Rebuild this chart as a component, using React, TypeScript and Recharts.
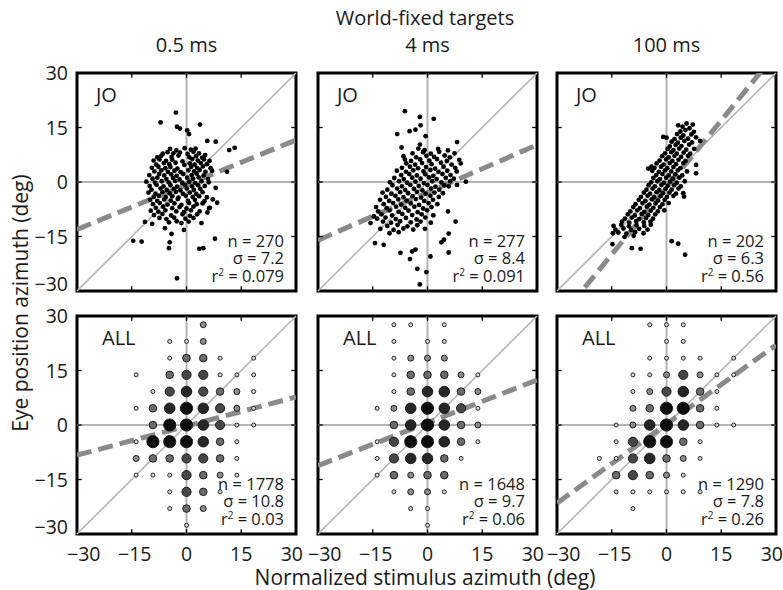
import React from 'react';
import { ScatterChart, Scatter, XAxis, YAxis, ReferenceLine, ReferenceArea } from 'recharts';

// ---- data ----
const DELAYS = ['0.5 ms', '4 ms', '100 ms'];
const SUBJECTS = ['JO', 'ALL'];
const TICKS = [-30, -15, 0, 15, 30];

const N_JO = [270, 277, 202];
const SIGMA_JO = ['7.2', '8.4', '6.3'];
const R2_JO = ['0.079', '0.091', '0.56'];
const N_ALL = [1778, 1648, 1290];
const SIGMA_ALL = ['10.8', '9.7', '7.8'];
const R2_ALL = ['0.03', '0.06', '0.26'];

// regression fits [slope, intercept]
const FIT_JO = [[0.41, -0.75], [0.437, -2.9], [1.23, -1.5]];
const FIT_ALL = [[0.267, -0.3], [0.393, 0.6], [0.725, 0.25]];

// single trials, subject JO: [stimulus az, eye az]
const JO_05: [number, number][] = [
  [-2.9,19.1],[-7.1,16.4],[-2.6,15.2],[-1.8,14.7],[0.2,14.2],[0.7,13.2],[3.7,15.8],[5.7,11.3],[8,11.1],[11.7,8.8],[13.2,9.4],[11.1,2.8],[8,-1.6],[8.4,-5.7],[-14.6,-16.2],[-12.3,-16.4],[-4.6,-16.6],[-4.8,-18.2],[3.5,-18.4],[4.6,-18.2],[7.8,-15.6],[-2.6,-26.5],[-11.4,-11],[-9.4,-11.5],[-5.9,-12.7],[-4.1,-14.3],[-0.7,-13.2],[4.1,-11.3],[5.7,-8.4],[6.2,-7.2],
  [-4.5,9.1],[-2.8,8.7],[-0.5,9.3],[1.2,8.9],[2.5,9.2],
  [-6.5,7.8],[-5.2,8.2],[-3.6,7.9],[-1.8,8.1],[0.3,7.7],[1.9,8.3],[3.4,7.9],
  [-8,6.8],[-6.9,7.2],[-4.1,6.9],[-2.2,7.3],[0.8,6.8],[2.6,7.1],[4.3,6.7],[5.1,7.4],
  [-9,5.9],[-7.4,6.2],[-5.6,5.8],[-3.9,6.1],[-1.1,5.7],[1.6,6.3],[3.1,5.9],[4.8,6.2],[6.3,5.8],
  [-8.3,4.8],[-6.2,5.2],[-4.7,4.9],[-3,5.3],[-0.6,4.7],[0.9,5.1],[2.2,4.8],[3.9,5.2],[5.6,4.9],
  [-9.5,3.9],[-7.7,4.2],[-5.8,3.8],[-4.4,4.1],[-2.5,3.7],[1.3,4.2],[2.9,3.9],[4.5,4.3],[6.6,3.8],
  [-8.8,2.9],[-6.9,3.2],[-5.1,2.8],[-3.3,3.1],[-1.6,2.7],[0.5,3.2],[2.1,2.9],[3.6,3.3],[5.2,2.8],[7,3.1],
  [-10.2,1.9],[-7.5,2.2],[-6.1,1.8],[-4.2,2.1],[-2.7,1.7],[-0.9,2.2],[1.4,1.9],[2.8,2.3],[4.7,1.8],
  [-9.3,0.9],[-8,1.2],[-5.5,0.8],[-3.7,1.1],[-1.9,0.7],[0.2,1.2],[1.8,0.9],[3.3,1.3],[5.9,0.8],
  [-11,0.1],[-8.6,-0.2],[-6.8,0.2],[-4.9,-0.1],[-3.1,0.3],[-1.2,-0.2],[0.7,0.1],[2.4,-0.3],[4.1,0.2],[6.1,-0.1],
  [-10.1,-1.1],[-8.2,-0.8],[-6.3,-1.2],[-4.4,-0.9],[-2.6,-1.3],[-0.4,-0.8],[1.5,-1.2],[3.2,-0.9],[5,-1.1],
  [-9.6,-2.1],[-7.1,-1.8],[-5.4,-2.2],[-3.5,-1.9],[-1.7,-2.3],[0.1,-1.8],[2,-2.2],[3.8,-1.9],
  [-10.4,-2.9],[-8.5,-3.2],[-6.6,-2.8],[-4.6,-3.1],[-2.9,-2.7],[-1,-3.2],[0.9,-2.9],[2.7,-3.3],[4.4,-2.8],
  [-9,-4.1],[-7.6,-3.8],[-5.7,-4.2],[-3.9,-3.9],[-2.2,-4.3],[-0.2,-3.8],[1.7,-4.1],[3.5,-3.9],[5.6,-4.2],
  [-10,-4.9],[-8,-5.2],[-6.1,-4.8],[-4.3,-5.1],[-2.4,-4.7],[0.4,-5.2],[2.3,-4.9],[4.9,-5.3],[7.2,-4.8],
  [-9.2,-6.1],[-7.3,-5.8],[-5.2,-6.2],[-3.3,-5.9],[-1.4,-6.3],[0.7,-5.8],[2.8,-6.1],[4.4,-5.9],
  [-8.4,-7.1],[-6.4,-6.8],[-3.9,-7.2],[-1.9,-6.9],[0,-7.3],[1.9,-6.8],[6.4,-7.1],
  [-9.8,-7.9],[-7.7,-8.2],[-5.8,-7.8],[-2.8,-8.1],[-0.7,-8.3],[1.2,-7.8],[3.6,-8.1],
  [-8.9,-9.1],[-6.6,-8.8],[-4.2,-9.2],[-1.1,-8.9],[0.9,-9.3],[2.9,-8.9],
  [-7.4,-9.9],[-5.5,-10.2],[-3.4,-9.8],[-0.3,-10.1],[1.9,-9.9],
  [-4.8,-11.1],[-2.7,-10.8],[-1.4,-11.3],[0.6,-10.9],
];

const JO_4: [number, number][] = [
  [-6.2,19.5],[-2.1,17.9],[1.7,17.4],[-1.9,15.6],[-3.3,14.4],[-4.9,14],[-8.3,13.2],[-0.5,12.6],[-7.1,9.5],[-2.1,10.3],[8.1,11],[-6.2,6.2],[10.5,0.1],[8.1,-0.8],[7.7,-10.9],[-14.4,-16.8],[-12,-17.3],[4.5,-15.9],[5.8,-14.2],[3.8,-16.6],[-7.4,-19.5],[-4.2,-19.1],[-3.3,-18.6],[-4.8,-21.2],[0.8,-20.5],[5.8,-19.4],[-2.8,-23.9],[-0.3,-24.8],[-2.1,-28.2],[-15.6,-11.3],[-14.7,-9.5],
  [-2.5,9.2],[-0.8,8.8],[2.9,9.1],[5.6,8.7],
  [-4.1,7.9],[-1.2,8.2],[0.9,7.8],[3.2,8.3],[7.4,7.9],
  [-6.6,7.1],[-3.1,6.8],[-0.3,7.2],[1.8,6.9],[4.7,7.3],[6.1,6.8],
  [-4.5,5.8],[-2,6.2],[0.5,5.9],[2.6,6.3],[5.3,5.8],[8.7,6.1],
  [-5.8,5.1],[-3.4,4.8],[-1.5,5.2],[1.1,4.9],[3.7,5.3],[6.6,4.8],[9.1,5.1],
  [-7,3.9],[-4.8,4.2],[-2.6,3.8],[-0.4,4.1],[2.1,3.7],[4.4,4.2],[7.6,3.9],
  [-8.4,3.1],[-5.9,2.8],[-3.9,3.2],[-1.1,2.9],[0.8,3.3],[3,2.8],[5.4,3.1],[8,2.9],
  [-7.2,1.9],[-5,2.2],[-2.9,1.8],[-0.6,2.1],[1.6,1.7],[4.1,2.2],[6.3,1.9],
  [-9.1,1.1],[-6.5,0.8],[-4.2,1.2],[-1.9,0.9],[0.4,1.3],[2.5,0.8],[5,1.1],[7.2,0.9],
  [-10.3,-0.1],[-7.8,0.2],[-5.6,-0.2],[-3.3,0.1],[-1,-0.3],[1.3,0.2],[3.8,-0.1],[6.2,0.2],
  [-9.6,-0.9],[-7,-1.2],[-4.7,-0.8],[-2.4,-1.1],[0,-0.8],[2.2,-1.3],[4.6,-0.9],[5.8,-1.2],
  [-11,-2.1],[-8.3,-1.8],[-6.1,-2.2],[-3.7,-1.9],[-1.4,-2.3],[1,-1.8],[3.2,-2.1],
  [-12.3,-2.9],[-9.9,-3.2],[-7.5,-2.8],[-5.3,-3.1],[-2.9,-2.7],[-0.5,-3.2],[1.9,-2.9],[4.2,-3.1],
  [-11.4,-4.1],[-8.8,-3.8],[-6.6,-4.2],[-4.1,-3.9],[-1.8,-4.3],[0.8,-3.8],[3.1,-4.1],
  [-13,-4.9],[-10.5,-5.2],[-8,-4.8],[-5.7,-5.1],[-3.2,-4.7],[-0.9,-5.2],[1.5,-4.9],
  [-12,-6.1],[-9.4,-5.8],[-7.2,-6.2],[-4.6,-5.9],[-2.3,-6.3],[0.3,-5.8],[2.7,-6.1],
  [-14.1,-6.9],[-11.2,-7.2],[-8.6,-6.8],[-6.1,-7.1],[-3.6,-6.8],[-1.2,-7.3],[1.1,-6.9],
  [-13.5,-8.1],[-10.4,-7.8],[-7.9,-8.2],[-5.2,-7.9],[-2.7,-8.3],[-0.1,-7.8],[5.6,-8.1],
  [-12.6,-8.9],[-9.7,-9.2],[-6.9,-8.8],[-4.2,-9.1],[-1.6,-8.9],[1.6,-9.2],
  [-13.8,-10.1],[-11.5,-9.8],[-8.7,-10.2],[-5.9,-9.9],[-3,-10.3],[-0.6,-9.8],
  [-12.2,-10.9],[-10,-11.2],[-7.5,-10.8],[-4.6,-11.1],[-1.9,-10.9],[0.9,-11.2],
  [-11,-12.1],[-8.2,-11.8],[-5.5,-12.2],[-2.8,-11.9],
  [-12.9,-12.9],[-9.3,-13.2],[-6.6,-12.8],[-3.9,-13.1],[-0.7,-12.9],
  [-10.4,-14.1],[-7.9,-13.8],
];

const JO_100: [number, number][] = [
  [5.5,16.1],[7.2,15.8],[3.2,15.6],[-0.9,12.4],[0,12.2],[9.2,11.3],[-5,3.7],[-4.1,4.2],[8.1,4.7],[8.1,2.4],[4.6,-3.1],[4.8,-4],[1.4,-16.3],[3.2,-17],[5.1,-20],[-14.8,-17.1],[-14.7,-14.1],[-9.5,-18.2],[-7.1,-18.4],
  [4.4,15.2],[6.3,14.8],
  [3.8,13.9],[5.2,14.3],[7.5,13.8],
  [2.9,13.2],[4.6,12.8],[6.8,13.1],
  [2.2,11.8],[3.9,12.2],[5.9,11.9],[8.1,12.3],
  [1.4,11.1],[3.1,10.8],[4.9,11.3],[7,10.9],
  [0.9,9.8],[2.5,10.2],[4.1,9.9],[6.2,10.3],
  [0.3,9.1],[1.9,8.8],[3.5,9.2],[5.4,8.9],[7.6,9.1],
  [-0.4,7.9],[1.3,8.2],[2.8,7.8],[4.7,8.1],[6.5,7.8],
  [-1.2,7.1],[0.6,6.8],[2.2,7.2],[4,6.9],[5.9,7.2],
  [-1.9,5.9],[-0.1,6.2],[1.6,5.8],[3.3,6.1],[5.2,5.8],
  [-2.7,5.1],[-0.8,4.8],[0.9,5.2],[2.6,4.9],[4.6,5.2],
  [-3.3,3.9],[-1.5,4.2],[0.2,3.8],[1.9,4.1],[3.8,3.8],
  [-3.9,3.1],[-2.1,2.8],[-0.4,3.2],[1.3,2.9],[3.1,3.2],[5.6,2.9],
  [-2.8,1.9],[-1.1,2.2],[0.6,1.8],[2.4,2.1],[4.3,1.8],
  [-3.6,1.1],[-1.8,0.8],[-0.1,1.2],[1.7,0.9],[3.5,1.2],
  [-4.2,-0.1],[-2.5,0.2],[-0.7,-0.2],[1,0.1],[2.8,-0.2],[5,0.2],
  [-4.9,-0.9],[-3.2,-1.2],[-1.4,-0.8],[0.3,-1.1],[2.1,-0.9],[3.9,-1.2],
  [-5.5,-2.1],[-3.8,-1.8],[-2,-2.2],[-0.3,-1.9],[1.4,-2.1],[3.3,-1.8],
  [-6.2,-2.9],[-4.5,-3.2],[-2.7,-2.8],[-1,-3.1],[0.8,-2.9],[2.6,-3.2],
  [-7,-4.1],[-5.2,-3.8],[-3.4,-4.2],[-1.6,-3.9],[0.1,-4.1],[1.9,-3.8],
  [-7.6,-4.9],[-5.8,-5.2],[-4,-4.8],[-2.3,-5.1],[-0.5,-4.9],
  [-8.5,-6.1],[-6.6,-5.8],[-4.7,-6.2],[-3,-5.9],[-1.1,-6.1],[0.6,-5.8],
  [-9.1,-6.9],[-7.3,-7.2],[-5.4,-6.8],[-3.6,-7.1],[-1.8,-6.9],
  [-9.9,-8.1],[-8,-7.8],[-6.1,-8.2],[-4.3,-7.9],[-2.4,-8.1],[-0.6,-7.8],
  [-10.6,-8.9],[-8.7,-9.2],[-6.8,-8.8],[-5,-9.1],[-3.1,-8.9],
  [-11.4,-10.1],[-9.5,-9.8],[-7.5,-10.2],[-5.6,-9.9],[-3.7,-10.1],
  [-12.2,-10.9],[-10.2,-11.2],[-8.3,-10.8],[-6.2,-11.1],[-4.4,-10.9],
  [-14.5,-12.1],[-12.4,-11.8],[-10.3,-12.2],[-8.2,-11.9],[-6.1,-12.1],[-4.3,-11.8],
  [-14,-13.1],[-11.8,-12.8],[-9.7,-13.2],[-7.5,-12.9],[-5.2,-13.1],
  [-13.2,-13.9],[-11,-14.2],[-8.6,-13.8],[-6.3,-14.1],
  [-11.5,-15.1],[-9,-14.8],
];

// pooled data, binned: [x bin, y bin, count class 1..6]
const BIN_DEG = 4.6;
const ALL_05: [number, number, number][] = [
  [1,6,2],
  [-1,5,1],[0,5,1],[1,5,2],
  [-1,4,1],[0,4,3],[1,4,3],[2,4,1],[4,4,1],
  [-3,3,1],[-1,3,3],[0,3,4],[1,3,4],[2,3,1],[3,3,1],[4,3,1],
  [-2,2,1],[-1,2,4],[0,2,5],[1,2,4],[2,2,3],[3,2,2],[4,2,1],
  [-3,1,1],[-2,1,3],[-1,1,5],[0,1,6],[1,1,5],[2,1,4],[3,1,2],[4,1,1],
  [-2,0,3],[-1,0,6],[0,0,6],[1,0,5],[2,0,4],[3,0,1],[4,0,1],
  [-3,-1,1],[-2,-1,6],[-1,-1,6],[0,-1,6],[1,-1,5],[2,-1,3],[3,-1,1],
  [-3,-2,2],[-2,-2,3],[-1,-2,3],[0,-2,4],[1,-2,4],[2,-2,3],[3,-2,1],
  [-3,-3,1],[-2,-3,1],[-1,-3,1],[0,-3,4],[1,-3,3],[2,-3,2],[3,-3,1],
  [-1,-4,1],[0,-4,4],[1,-4,3],[2,-4,1],
  [-1,-5,1],[0,-5,3],[1,-5,2],
  [0,-6,1],
];
const ALL_4: [number, number, number][] = [
  [-2,6,1],[-1,6,1],[1,6,1],
  [-2,5,1],[0,5,1],[1,5,1],
  [-2,4,1],[-1,4,2],[0,4,2],[1,4,2],
  [-2,3,1],[-1,3,3],[0,3,3],[1,3,3],[2,3,2],[3,3,1],
  [-2,2,1],[-1,2,3],[0,2,5],[1,2,5],[2,2,3],[3,2,2],
  [-3,1,1],[-2,1,2],[-1,1,5],[0,1,6],[1,1,5],[2,1,4],[3,1,1],
  [-2,0,3],[-1,0,5],[0,0,6],[1,0,5],[2,0,3],[3,0,2],
  [-3,-1,1],[-2,-1,4],[-1,-1,6],[0,-1,6],[1,-1,5],[2,-1,3],[3,-1,1],
  [-3,-2,1],[-2,-2,4],[-1,-2,5],[0,-2,5],[1,-2,3],[2,-2,1],
  [-3,-3,1],[-2,-3,3],[-1,-3,2],[0,-3,3],[1,-3,3],
  [-2,-4,1],[-1,-4,2],[0,-4,2],[1,-4,1],
  [-1,-5,1],[0,-5,1],
  [0,-6,1],
];
const ALL_100: [number, number, number][] = [
  [-1,6,1],[0,6,1],[1,6,1],
  [0,5,1],[1,5,1],
  [-1,4,1],[0,4,1],[1,4,1],[2,4,1],[4,4,1],
  [-2,3,1],[-1,3,1],[0,3,2],[1,3,4],[2,3,2],[3,3,1],[4,3,1],
  [-2,2,1],[-1,2,2],[0,2,4],[1,2,5],[2,2,3],[3,2,1],
  [-2,1,2],[-1,1,3],[0,1,6],[1,1,6],[2,1,3],[3,1,1],
  [-3,0,1],[-2,0,2],[-1,0,5],[0,0,6],[1,0,5],[2,0,3],[3,0,1],[4,0,1],
  [-3,-1,1],[-2,-1,4],[-1,-1,6],[0,-1,6],[1,-1,3],[2,-1,1],
  [-4,-2,1],[-3,-2,1],[-2,-2,4],[-1,-2,5],[0,-2,3],[1,-2,2],[2,-2,1],
  [-3,-3,3],[-2,-3,4],[-1,-3,3],[0,-3,2],[1,-3,1],
  [-3,-4,1],[-2,-4,1],[-1,-4,1],[0,-4,1],[1,-4,1],[2,-4,1],
  [-2,-5,1],
];

// ---- layout / style ----
const FONT = '"Open Sans", "Noto Sans", sans-serif';
const COL_LEFT = [77, 318, 557];
const ROW_TOP = [73, 316];
const PANEL_W = 219;
const PANEL_H = 218;
const YW = 45;
const XH = 34;
const PAD = 16;
const TICK_LEN = 1.3; // inner tick length, in axis units
const BUBBLE_R = [0, 2, 3, 3.8, 4.6, 5.3, 6.1];
const BUBBLE_FILL = ['#fff', '#d8d8d8', '#8c8c8c', '#6c6c6c', '#474747', '#262626', '#0c0c0c'];
const REF_GRAY = '#b4b4b4';

const fmt = (v: number) => (v < 0 ? `\u2212${-v}` : `${v}`);

const XTick = (props: any) => {
  const { x, y, payload } = props;
  const v = payload.value;
  const anchor = v === -30 ? 'start' : v === 30 ? 'end' : 'middle';
  const dx = v === -30 ? -10 : v === 30 ? 7 : v < 0 ? 3 : 0;
  return (
    <text x={x + dx} y={y} dy="0.71em" textAnchor={anchor} fontSize={19.5} fontFamily={FONT} fill="#1a1a1a">
      {fmt(v)}
    </text>
  );
};

const YTick = (props: any) => {
  const { x, y, payload } = props;
  const v = payload.value;
  return (
    <text x={x} y={y + (v === -30 ? -7 : 0)} dy="0.36em" textAnchor="end" fontSize={19.5} fontFamily={FONT} fill="#1a1a1a">
      {fmt(v)}
    </text>
  );
};

const Dot = (p: any) => <circle cx={p.cx} cy={p.cy} r={2.4} fill="#000" />;
const Bubble = (p: any) => (
  <circle cx={p.cx} cy={p.cy} r={BUBBLE_R[p.payload.level]} fill={BUBBLE_FILL[p.payload.level]} stroke="#111" strokeWidth={0.9} />
);

const Text = ({ cx, cy, size, children, rotate }: any) => (
  <div
    style={{
      position: 'absolute', left: cx, top: cy, whiteSpace: 'nowrap', fontSize: size, lineHeight: 1,
      fontFamily: FONT, color: '#1a1a1a',
      transform: `translate(-50%, -50%)${rotate ? ' rotate(-90deg)' : ''}`,
    }}
  >
    {children}
  </div>
);

// inner tick marks on all four borders, from the axis ticks
const innerTicks = TICKS.filter((t) => Math.abs(t) < 30).flatMap((t) => [
  [{ x: t, y: -30 }, { x: t, y: -30 + TICK_LEN }],
  [{ x: t, y: 30 }, { x: t, y: 30 - TICK_LEN }],
  [{ x: -30, y: t }, { x: -30 + TICK_LEN, y: t }],
  [{ x: 30, y: t }, { x: 30 - TICK_LEN, y: t }],
]);

function Panel({ row, col }: { row: number; col: number }) {
  const isAll = row === 1;
  const data = isAll
    ? [ALL_05, ALL_4, ALL_100][col].map(([bx, by, level]) => ({ x: bx * BIN_DEG, y: by * BIN_DEG, level }))
    : [JO_05, JO_4, JO_100][col].map(([x, y]) => ({ x, y }));
  const [m, b] = (isAll ? FIT_ALL : FIT_JO)[col];
  const n = (isAll ? N_ALL : N_JO)[col];
  const sigma = (isAll ? SIGMA_ALL : SIGMA_JO)[col];
  const r2 = (isAll ? R2_ALL : R2_JO)[col];
  const showX = row === 1;
  const showY = col === 0;
  const w = YW + PANEL_W + PAD;
  const h = PAD + PANEL_H + XH;

  return (
    <div style={{ position: 'absolute', left: COL_LEFT[col] - YW, top: ROW_TOP[row] - PAD, width: w, height: h }}>
      <ScatterChart width={w} height={h} margin={{ top: PAD, right: PAD, bottom: 0, left: 0 }}>
        <XAxis type="number" dataKey="x" domain={[-30, 30]} ticks={TICKS} allowDataOverflow height={XH}
          axisLine={false} tickLine={false} tickMargin={7} tick={showX ? <XTick /> : false} />
        <YAxis type="number" dataKey="y" domain={[-30, 30]} ticks={TICKS} allowDataOverflow width={YW}
          axisLine={false} tickLine={false} tickMargin={3} tick={showY ? <YTick /> : false} />
        <ReferenceLine x={0} stroke={REF_GRAY} strokeWidth={2} />
        <ReferenceLine y={0} stroke={REF_GRAY} strokeWidth={2} />
        <ReferenceLine segment={[{ x: -30, y: -30 }, { x: 30, y: 30 }]} stroke={REF_GRAY} strokeWidth={1.6} />
        <Scatter data={data} isAnimationActive={false} shape={isAll ? Bubble : Dot} />
        <ReferenceLine
          segment={[{ x: -30, y: b - 30 * m }, { x: 30, y: b + 30 * m }]}
          ifOverflow="hidden" stroke="#8a8a8a" strokeWidth={5} strokeDasharray="15 7"
        />
        {innerTicks.map((seg, i) => (
          <ReferenceLine key={`t${i}`} segment={seg} stroke="#000" strokeWidth={1.3} ifOverflow="visible" />
        ))}
        <ReferenceArea x1={-30} x2={30} y1={-30} y2={30} fill="none" fillOpacity={0} stroke="#000" strokeWidth={3} ifOverflow="visible" />
      </ScatterChart>
      <div style={{ position: 'absolute', left: YW + (isAll ? 25 : 19), top: PAD + 12, fontSize: 20, lineHeight: '20px', fontFamily: FONT, color: '#1a1a1a' }}>
        {SUBJECTS[row]}
      </div>
      <div style={{ position: 'absolute', right: PAD + 12, bottom: XH + 4, fontSize: 16.5, lineHeight: '17.5px', fontFamily: FONT, color: '#1a1a1a', textAlign: 'right', whiteSpace: 'nowrap' }}>
        <div>n = {n}</div>
        <div>σ = {sigma}</div>
        <div>r<span style={{ fontSize: 10, position: 'relative', top: -6 }}>2</span> = {r2}</div>
      </div>
    </div>
  );
}

export default function App() {
  return (
    <div style={{ position: 'absolute', left: 0, top: 0, width: 783, height: 590, background: '#fff', overflow: 'hidden' }}>
      <Text cx={425} cy={18} size={20}>World-fixed targets</Text>
      {DELAYS.map((d, i) => (
        <Text key={d} cx={COL_LEFT[i] + PANEL_W / 2} cy={45} size={20}>{d}</Text>
      ))}
      {[0, 1].map((r) => [0, 1, 2].map((c) => <Panel key={`${r}-${c}`} row={r} col={c} />))}
      <Text cx={20} cy={303} size={21} rotate>Eye position azimuth (deg)</Text>
      <Text cx={425} cy={577} size={21}>Normalized stimulus azimuth (deg)</Text>
    </div>
  );
}
